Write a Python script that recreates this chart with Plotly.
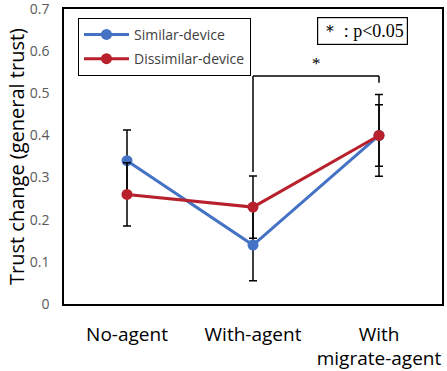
import plotly.graph_objects as go

categories = ["No-agent", "With-agent", "With<br>migrate-agent"]
similar = [0.34, 0.14, 0.40]
similar_err = [0.073, 0.085, 0.097]
dissimilar = [0.26, 0.23, 0.40]
dissimilar_err = [0.075, 0.074, 0.073]
y_ticks = [0, 0.1, 0.2, 0.3, 0.4, 0.5, 0.6, 0.7]
y_tick_labels = ["0", "0.1", "0.2", "0.3", "0.4", "0.5", "0.6", "0.7"]

BLUE = "#4472C4"
RED = "#B8202C"
FONT = "Open Sans"

fig = go.Figure()
fig.add_trace(go.Scatter(
    x=categories, y=similar, name="Similar-device", mode="lines+markers", legendgroup="a",
    line=dict(color=BLUE, width=3), marker=dict(color=BLUE, size=11),
    error_y=dict(type="data", array=similar_err, color="black", thickness=1.5, width=4),
))
fig.add_trace(go.Scatter(
    x=categories, y=dissimilar, name="Dissimilar-device", mode="lines+markers", legendgroup="b",
    line=dict(color=RED, width=3), marker=dict(color=RED, size=11),
    error_y=dict(type="data", array=dissimilar_err, color="black", thickness=1.5, width=4),
))

# significance bracket
fig.add_shape(type="line", xref="x", yref="y", x0=1, x1=1, y0=0.313, y1=0.541,
              line=dict(color="black", width=1.5))
fig.add_shape(type="line", xref="x", yref="y", x0=1, x1=2, y0=0.541, y1=0.541,
              line=dict(color="black", width=1.5))
fig.add_shape(type="line", xref="x", yref="y", x0=2, x1=2, y0=0.525, y1=0.541,
              line=dict(color="black", width=1.5))
fig.add_annotation(x=1.5, y=0.541, xref="x", yref="y", text="*", showarrow=False,
                   yanchor="bottom", yshift=1, font=dict(family="Liberation Serif", size=17, color="black"))
fig.add_annotation(x=0.791, y=0.926, xref="paper", yref="paper", text="＊ : p<0.05",
                   showarrow=False, xanchor="center", yanchor="middle",
                   font=dict(family="Liberation Serif", size=18, color="black"),
                   bordercolor="black", borderwidth=1.2, borderpad=3, bgcolor="white")

fig.update_layout(
    width=447, height=371,
    margin=dict(l=64, r=5, t=9, b=67),
    plot_bgcolor="white", paper_bgcolor="white",
    font=dict(family=FONT, color="black"),
    showlegend=True,
    legend=dict(x=0.037, y=0.97, xanchor="left", yanchor="top",
                bordercolor="black", borderwidth=1, bgcolor="white",
                font=dict(family=FONT, size=14, color="#404040"),
                itemwidth=45, traceorder="grouped", tracegroupgap=3),
    xaxis=dict(range=[-0.5, 2.5], showline=True, mirror=True, linecolor="black", linewidth=1.5,
               ticks="", tickfont=dict(family=FONT, size=19, color="black"),
               ticklabelstandoff=12, showgrid=False, zeroline=False, fixedrange=True,
               automargin=False),
    yaxis=dict(range=[0, 0.7001], tickvals=y_ticks, ticktext=y_tick_labels,
               showline=True, mirror=True, linecolor="black", linewidth=1.5,
               ticks="", tickfont=dict(family=FONT, size=14, color="#595959"),
               ticklabelstandoff=10, ticklabeloverflow="allow",
               showgrid=False, zeroline=False, automargin=False,
               fixedrange=True,
               title=dict(text="Trust change (general trust)",
                          font=dict(family=FONT, size=20, color="black"), standoff=0)),
)

fig.write_html(
    "out.html",
    config={"displayModeBar": False},
    post_script="document.body.style.margin='0';document.body.style.overflow='hidden';",
)
